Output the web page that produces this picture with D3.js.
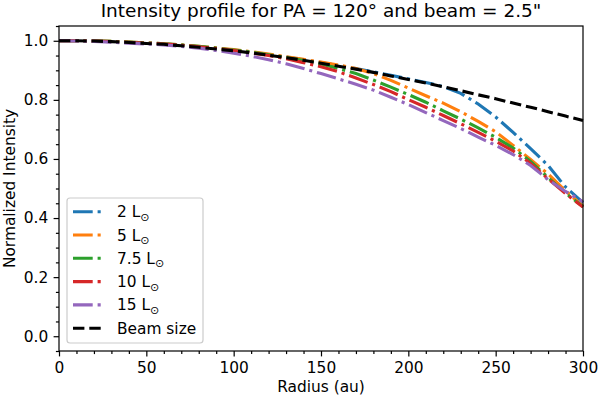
<!DOCTYPE html>
<html>
<head>
<meta charset="utf-8">
<script src="https://cdn.jsdelivr.net/npm/d3@7"></script>
<style>
  body { margin: 0; background: #fff; }
  text { font-family: "DejaVu Sans", sans-serif; fill: #000; }
</style>
</head>
<body>
<svg id="chart" width="599" height="398"></svg>
<script>
// radius grid (au) and the normalized intensity
var radius = [0,10,20,30,40,50,60,70,80,90,100,110,120,130,140,150,160,170,180,190,200,210,220,230,240,250,260,270,280,290,300];

var lum2  = [1.000,1.000,0.999,0.997,0.995,0.992,0.989,0.985,0.980,0.974,0.968,0.961,0.953,0.945,0.936,0.926,0.916,0.906,0.895,0.883,0.871,0.859,0.845,0.822,0.786,0.742,0.690,0.635,0.578,0.505,0.452];
var lum5  = [1.000,1.000,0.999,0.998,0.996,0.993,0.990,0.986,0.981,0.976,0.970,0.963,0.955,0.946,0.937,0.928,0.918,0.906,0.889,0.866,0.840,0.814,0.789,0.760,0.727,0.692,0.646,0.598,0.549,0.492,0.440];
var lum75 = [1.000,1.000,0.999,0.998,0.996,0.993,0.990,0.986,0.981,0.975,0.969,0.962,0.953,0.943,0.933,0.921,0.906,0.889,0.867,0.843,0.818,0.792,0.763,0.735,0.705,0.673,0.637,0.592,0.537,0.485,0.438];
var lum10 = [1.000,1.000,0.999,0.997,0.995,0.992,0.989,0.985,0.980,0.974,0.967,0.959,0.950,0.939,0.926,0.912,0.895,0.874,0.852,0.828,0.801,0.775,0.747,0.719,0.690,0.660,0.627,0.585,0.533,0.483,0.437];
var lum15 = [1.000,0.999,0.998,0.995,0.992,0.989,0.986,0.981,0.975,0.967,0.958,0.948,0.936,0.922,0.906,0.889,0.871,0.853,0.833,0.809,0.784,0.757,0.730,0.703,0.674,0.646,0.615,0.578,0.530,0.490,0.455];
var beamSize = [1.000,1.000,0.999,0.997,0.994,0.991,0.988,0.983,0.978,0.972,0.966,0.959,0.951,0.943,0.934,0.924,0.914,0.904,0.893,0.881,0.869,0.857,0.844,0.831,0.817,0.804,0.789,0.775,0.760,0.745,0.730];

var lumLabels = ["2", "5", "7.5", "10", "15"];
var colors = ["#1f77b4", "#ff7f0e", "#2ca02c", "#d62728", "#9467bd"];
var xTicks = [0, 50, 100, 150, 200, 250, 300];
var yTicks = [0.0, 0.2, 0.4, 0.6, 0.8, 1.0];

var svg = d3.select("#chart");

var plotLeft = 59, plotRight = 583, plotTop = 26, plotBottom = 351;
var fs = 15.4;           // 10pt at this figure's scale
var lw = 3.1;            // 2pt line
var dashDot = "19.7,4.9,3.1,4.9";
var dashed = "11.4,4.9";

var x = d3.scaleLinear().domain([0, 300]).range([plotLeft, plotRight]);
var y = d3.scaleLinear().domain([-0.05, 1.05]).range([plotBottom, plotTop]);

var allSeries = [lum2, lum5, lum75, lum10, lum15];

var line = d3.line()
  .x(function(d, i){ return x(radius[i]); })
  .y(function(d){ return y(d); });

var plot = svg.append("g");

allSeries.forEach(function(s, k){
  plot.append("path")
    .attr("d", line(s))
    .attr("fill", "none")
    .attr("stroke", colors[k])
    .attr("stroke-width", lw)
    .attr("stroke-dasharray", dashDot);
});

plot.append("path")
  .attr("d", line(beamSize))
  .attr("fill", "none")
  .attr("stroke", "#000")
  .attr("stroke-width", lw)
  .attr("stroke-dasharray", dashed);

// axes
var minorX = d3.range(0, 301, 10).filter(function(v){ return v % 50 !== 0; });
var minorY = d3.range(-1, 22).map(function(v){ return +(v * 0.05).toFixed(2); })
  .filter(function(v){ return Math.round(v * 100) % 20 !== 0; });

var xAxis = d3.axisBottom(x).tickValues(xTicks).tickSize(5.4).tickPadding(5.4)
  .tickFormat(d3.format("d"));
var xMinor = d3.axisBottom(x).tickValues(minorX).tickSize(3.1).tickFormat("");
var yAxis = d3.axisLeft(y).tickValues(yTicks).tickSize(5.4).tickPadding(5.4)
  .tickFormat(d3.format(".1f"));
var yMinor = d3.axisLeft(y).tickValues(minorY).tickSize(3.1).tickFormat("");

function styleAxis(g){
  g.select(".domain").remove();
  g.selectAll("line").attr("stroke", "#000").attr("stroke-width", 1.2);
  g.selectAll("text").attr("font-size", fs).attr("font-family", "DejaVu Sans");
}

svg.append("g").attr("transform", "translate(0," + plotBottom + ")").call(xAxis).call(styleAxis);
svg.append("g").attr("transform", "translate(0," + plotBottom + ")").call(xMinor).call(styleAxis);
svg.append("g").attr("transform", "translate(" + plotLeft + ",0)").call(yAxis).call(styleAxis);
svg.append("g").attr("transform", "translate(" + plotLeft + ",0)").call(yMinor).call(styleAxis);

svg.append("rect")
  .attr("x", plotLeft).attr("y", plotTop)
  .attr("width", plotRight - plotLeft).attr("height", plotBottom - plotTop)
  .attr("fill", "none").attr("stroke", "#000").attr("stroke-width", 1.2);

// labels
svg.append("text")
  .attr("x", (plotLeft + plotRight) / 2).attr("y", 17)
  .attr("text-anchor", "middle").attr("font-size", 18.5)
  .text("Intensity profile for PA = 120\u00b0 and beam = 2.5\"");

svg.append("text")
  .attr("x", (plotLeft + plotRight) / 2).attr("y", 392)
  .attr("text-anchor", "middle").attr("font-size", fs)
  .text("Radius (au)");

svg.append("text")
  .attr("transform", "translate(15," + ((plotTop + plotBottom) / 2) + ") rotate(-90)")
  .attr("text-anchor", "middle").attr("font-size", fs)
  .text("Normalized Intensity");

// legend
var legend = svg.append("g");
legend.append("rect")
  .attr("x", 67).attr("y", 198)
  .attr("width", 136).attr("height", 145)
  .attr("rx", 3).attr("ry", 3)
  .attr("fill", "#fff").attr("fill-opacity", 0.8)
  .attr("stroke", "#cccccc").attr("stroke-width", 1.2);

var legendItems = lumLabels.map(function(l, i){
  return {label: l, color: colors[i], dash: dashDot, sun: true};
});
legendItems.push({label: "Beam size", color: "#000", dash: dashed, sun: false});

var rows = legend.selectAll("g.row")
  .data(legendItems)
  .enter()
  .append("g")
  .attr("transform", function(d, i){ return "translate(0," + (211.7 + i * 23.3) + ")"; });

rows.append("line")
  .attr("x1", 73).attr("x2", 104)
  .attr("y1", 0).attr("y2", 0)
  .attr("stroke", function(d){ return d.color; })
  .attr("stroke-width", lw)
  .attr("stroke-dasharray", function(d){ return d.dash; });

var labels = rows.append("text")
  .attr("x", 117).attr("y", 5.5)
  .attr("font-size", fs);

labels.append("tspan")
  .text(function(d){ return d.sun ? d.label + " L" : d.label; });
labels.filter(function(d){ return d.sun; })
  .append("tspan")
  .attr("font-size", 11)
  .attr("dy", 3.5)
  .text("\u2299");
</script>
</body>
</html>
